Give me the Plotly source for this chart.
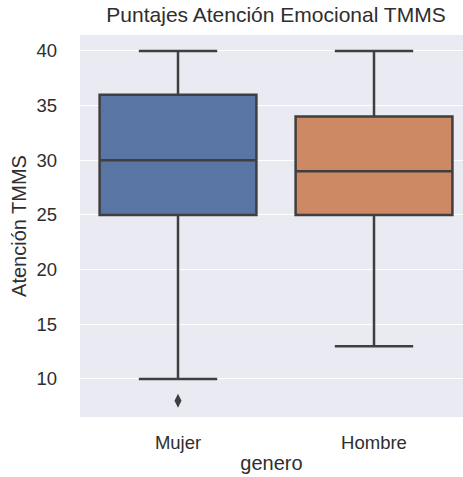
import plotly.graph_objects as go

# Summary statistics of the TMMS emotional attention score by gender
generos = ["Mujer", "Hombre"]
q1 = [25, 25]
mediana = [30, 29]
q3 = [36, 34]
bigote_inf = [10, 13]
bigote_sup = [40, 40]
atipicos_genero = ["Mujer"]
atipicos_valor = [8]

colores = ["#5875a4", "#cc8963"]
linea = "#3f3f3f"
fuente = "Liberation Sans, Arial, sans-serif"

fig = go.Figure()
for g, a, m, b, lo, hi, c in zip(generos, q1, mediana, q3, bigote_inf, bigote_sup, colores):
    fig.add_trace(go.Box(
        x=[g], q1=[a], median=[m], q3=[b], lowerfence=[lo], upperfence=[hi],
        fillcolor=c, line=dict(color=linea, width=2.5),
        width=0.8, whiskerwidth=0.5, boxpoints=False, showlegend=False,
        hoverinfo="skip",
    ))

fig.add_trace(go.Scatter(
    x=atipicos_genero, y=atipicos_valor, mode="markers",
    marker=dict(symbol="diamond-tall", size=10, color=linea),
    showlegend=False, hoverinfo="skip",
))

fig.update_layout(
    width=463, height=477,
    margin=dict(l=80, r=0, t=35, b=60),
    paper_bgcolor="white", plot_bgcolor="#EAEAF2",
    font=dict(family=fuente, size=18.5, color="#2e2e2e"),
    title=dict(text="Puntajes Atención Emocional TMMS", xref="container", x=276 / 463,
               xanchor="center", yref="container", y=1 - 15 / 477, yanchor="middle",
               font=dict(size=21, color="#2e2e2e")),
    xaxis=dict(categoryorder="array", categoryarray=generos, range=[-0.5, 1.454],
               showgrid=False, zeroline=False, showline=False,
               tickfont=dict(size=18.5),
               title=dict(text="genero", standoff=4, font=dict(size=20)),
               ticklabelstandoff=12),
    yaxis=dict(range=[6.52, 41.46], tickvals=[10, 15, 20, 25, 30, 35, 40],
               gridcolor="white", gridwidth=1.2, zeroline=False, showline=False,
               tickfont=dict(size=18.5),
               title=dict(text="Atención TMMS", standoff=4, font=dict(size=20)),
               ticklabelstandoff=22),
)

fig.write_html("out.html")
